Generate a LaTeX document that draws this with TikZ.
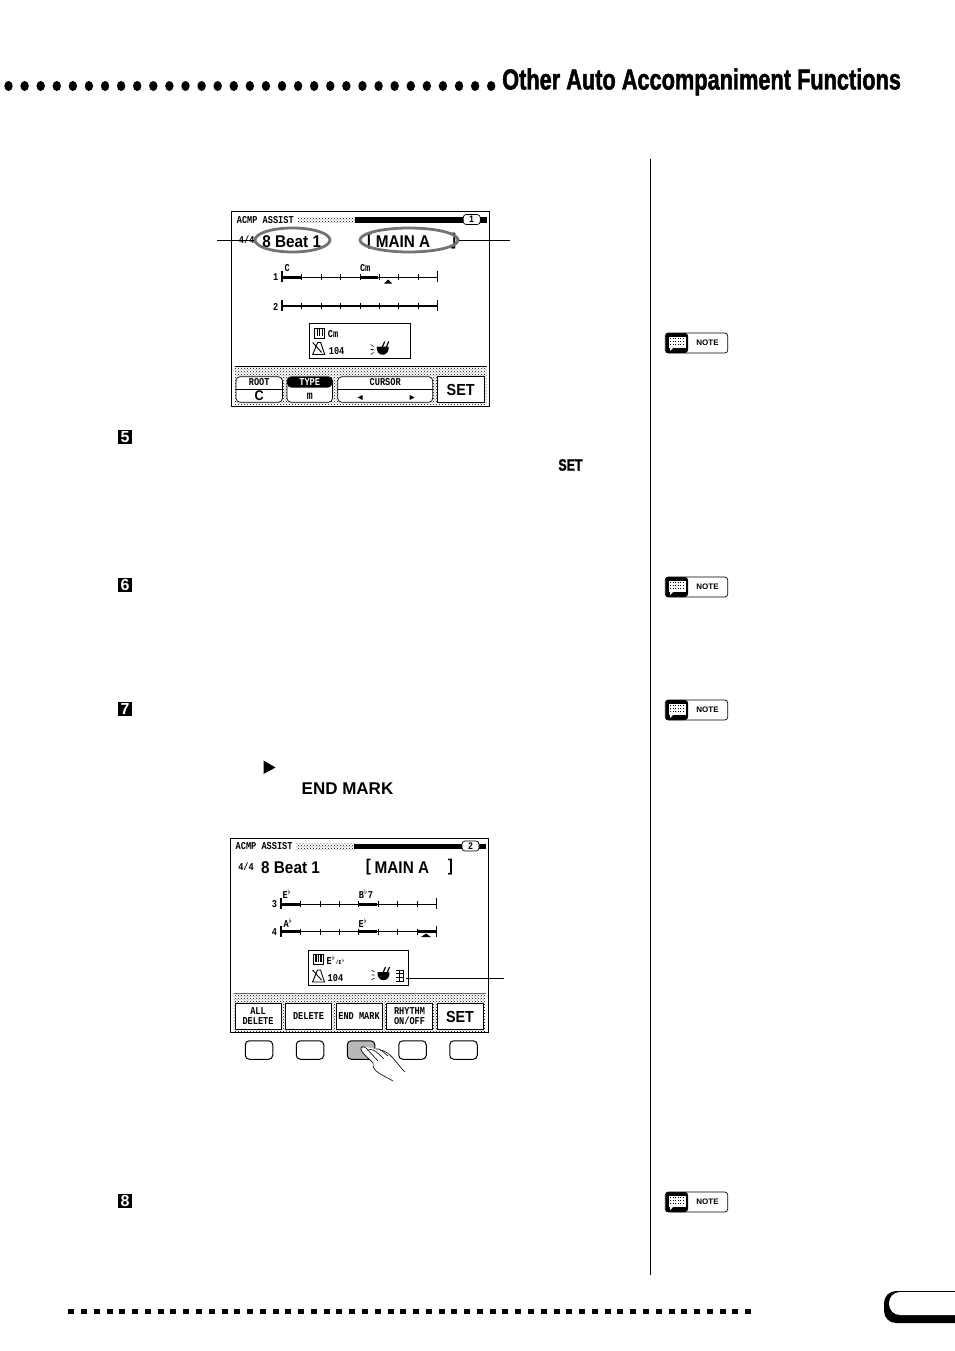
\documentclass[tikz,border=0pt]{standalone}
\usepackage{fontspec}
\setmainfont{Liberation Sans}
\newfontfamily\lcdfont[FakeStretch=0.82]{Liberation Mono}
\newfontfamily\lcdwide[FakeStretch=0.9]{Liberation Sans}
\newfontfamily\headfont[FakeStretch=0.75,FakeBold=1.6]{Liberation Sans}
\usetikzlibrary{patterns,shapes.geometric}
\tikzset{
  lcdsmall/.style={inner sep=0pt,font=\lcdfont\bfseries\fontsize{10.5}{10.5}\selectfont},
  lcdbig/.style={inner sep=0pt,font=\lcdwide\bfseries\fontsize{17}{17}\selectfont},
  softkey/.style={draw,fill=white,line width=.7pt,rounded corners=4pt},
  hardkey/.style={draw,line width=1pt,rounded corners=4pt,minimum width=27.5pt,minimum height=18.5pt,inner sep=0pt},
  stepbox/.style={fill=black,text=white,inner sep=0pt,minimum size=14.5pt,font=\bfseries\fontsize{16}{16}\selectfont},
  callout/.style={line width=.7pt},
  ringmark/.style={ellipse,draw=black!55,line width=2.8pt,inner sep=0pt},
}
% one timeline: y, thickness of the line
\newcommand{\barline}[2]{
  \draw[line width=#2] (0,#1) -- (155,#1);
  \foreach \t in {1,...,7} \draw[line width=.5pt] (\t*19.4,#1-3) -- (\t*19.4,#1+3);
  \draw[line width=1.6pt] (0,#1-6) -- (0,#1+5);
  \draw[line width=.8pt] (155,#1-6) -- (155,#1+5);
}
% frame, title and dotted band of a screen
\newcommand{\screenframe}[1]{
  \draw[line width=.7pt] (0,0) rectangle (258,194.5);
  \node[lcdsmall,anchor=west] at (5,8.5) {ACMP ASSIST};
  \fill[pattern=crosshatch dots] (66,5.5) rectangle (125,11);
  \fill (123,5.5) rectangle (255,11);
  \node[draw,fill=white,rounded corners=3pt,line width=.7pt,minimum width=17pt,minimum height=10pt,inner sep=0pt,font=\lcdfont\bfseries\fontsize{10}{10}\selectfont] at (240,8) {#1};
  \fill[pattern=crosshatch dots] (3,155) rectangle (255,193);
}
% small icons of the info box: keyboard, metronome, drum
\newcommand{\keysicon}[2]{
  \draw[line width=.7pt] (#1-5,#2-5) rectangle (#1+5,#2+5);
  \foreach \k in {-2.5,0,2.5} \draw[line width=1.4pt] (#1+\k,#2-5) -- (#1+\k,#2+3);
}
\newcommand{\metroicon}[2]{
  \draw[line width=.9pt] (#1-6,#2+6) -- (#1-1,#2-6) -- (#1+2,#2-6) -- (#1+6,#2+6) -- cycle;
  \draw[line width=.9pt] (#1-6,#2-6) -- (#1+3,#2+4);
}
\newcommand{\drumicon}[2]{
  \fill (#1-6,#2-3) -- (#1+6,#2-3) .. controls (#1+7,#2+8) and (#1-7,#2+8) .. (#1-6,#2-3) -- cycle;
  \draw[line width=1.2pt] (#1-1,#2-1) -- (#1+2,#2-8) (#1+3,#2-1) -- (#1+6,#2-8);
  \draw[line width=.6pt] (#1-12,#2-5) -- (#1-9,#2-3) (#1-12,#2) -- (#1-9,#2) (#1-12,#2+5) -- (#1-9,#2+3);
}
\begin{document}
\begin{tikzpicture}[x=1pt,y=-1pt]
  \useasboundingbox (0,0) rectangle (954,1351);
  % Header
  \foreach \i in {0,...,30} \fill (8.5+\i*16.09,86) ellipse (4.2 and 5);
  \node[anchor=west,inner sep=0pt,font=\headfont\bfseries\fontsize{29}{29}\selectfont] (headline) at (502,82) {Other Auto Accompaniment Functions};
  % Margin rule
  \coordinate (ruletop) at (650.5,159);
  \coordinate (rulebot) at (650.5,1275);
  \draw[line width=.8pt] (ruletop) -- (rulebot);

  % First screen
  \begin{scope}[shift={(231.7,211.5)}]
    \screenframe{1}
    \node[lcdsmall] (metera) at (15,28.5) {4/4};
    \node[lcdbig,anchor=west] (stylea) at (30.5,30) {8 Beat 1};
    \node[lcdbig] (opena) at (138,29.5) {[};
    \node[lcdbig,anchor=west] (sectiona) at (144,30) {MAIN A};
    \node[lcdbig] (closea) at (222,29.5) {]};
    \begin{scope}[shift={(50.5,0)}]
      \barline{65.5}{.6pt}
      \barline{94.5}{1.4pt}
      \fill (0,64) rectangle (19.4,67);
      \fill (77.6,64) rectangle (96,67);
      \fill (110,72) -- (102,72) -- (106,68) -- cycle;
      \node[lcdsmall] at (5,57) {C};
      \node[lcdsmall] at (83,57) {Cm};
    \end{scope}
    \node[lcdsmall] at (44,66) {1};
    \node[lcdsmall] at (44,95) {2};
    \node[draw,line width=.7pt,fill=white,minimum width=100.5pt,minimum height=35.5pt,inner sep=0pt] (infoa) at (128,129.5) {};
    \keysicon{88}{121.5}
    \node[lcdsmall,anchor=west] at (96,123) {Cm};
    \metroicon{87}{137}
    \node[lcdsmall,anchor=west] at (97,140) {104};
    \drumicon{151}{138}
    \draw[line width=1.8pt] (3,155) -- (255,155);
    % Keys under the screen
    \node[softkey,minimum width=46.5pt,minimum height=25.5pt,inner sep=0pt] (rootkey) at (27.5,178) {};
    \draw[line width=.5pt] (rootkey.west) -- (rootkey.east);
    \node[lcdsmall] at (27.5,171) {ROOT};
    \node[inner sep=0pt,font=\lcdwide\bfseries\fontsize{14}{14}\selectfont] at (27.5,184.5) {C};
    \node[softkey,minimum width=45.5pt,minimum height=25.5pt,inner sep=0pt] (typekey) at (78,178) {};
    \fill[rounded corners=4pt] (55.5,165.5) rectangle (100.5,176) ;
    \node[lcdsmall,text=white] at (78,171) {TYPE};
    \node[lcdsmall,font=\lcdfont\bfseries\fontsize{12}{12}\selectfont] at (78,185) {m};
    \node[softkey,minimum width=95pt,minimum height=25.5pt,inner sep=0pt] (cursorkey) at (153.5,178) {};
    \draw[line width=.5pt] (cursorkey.west) -- (cursorkey.east);
    \node[lcdsmall] at (153.5,171) {CURSOR};
    \fill (126,186) -- (131,183.5) -- (131,188.5) -- cycle;
    \fill (183,186) -- (178,183.5) -- (178,188.5) -- cycle;
    \node[draw,fill=white,line width=.7pt,minimum width=46.5pt,minimum height=25.5pt,inner sep=0pt,font=\lcdwide\bfseries\fontsize{16}{16}\selectfont] (setkeya) at (229,178) {SET};
  \end{scope}
  \node[ringmark,minimum width=75pt,minimum height=24pt] (ringa) at (292.5,240) {};
  \node[ringmark,minimum width=98pt,minimum height=24pt] (ringb) at (409,240) {};
  \coordinate (calla) at (217,240);
  \coordinate (callb) at (510,240);
  \draw[callout] (calla) -- (ringa.west);
  \draw[callout] (ringb.east) -- (callb);

  % Step marks
  \node[stepbox] (stepfive) at (125,437) {5};
  \node[stepbox] (stepsix) at (125,585) {6};
  \node[stepbox] (stepseven) at (125,709) {7};
  \node[stepbox] (stepeight) at (125,1201) {8};
  \node[inner sep=0pt,font=\headfont\bfseries\fontsize{16.5}{16.5}\selectfont] (setword) at (570.5,465) {SET};
  \fill (263.5,760.5) -- (275.5,767.5) -- (263.5,774) -- cycle;
  \node[inner sep=0pt,font=\bfseries\fontsize{17}{17}\selectfont] (endword) at (347.5,789) {END MARK};

  % Second screen
  \begin{scope}[shift={(230.5,838)}]
    \screenframe{2}
    \node[lcdsmall] (meterb) at (15.5,29) {4/4};
    \node[lcdbig,anchor=west] (styleb) at (30.5,30) {8 Beat 1};
    \node[lcdbig] (openb) at (138,29.5) {[};
    \node[lcdbig,anchor=west] (sectionb) at (144,30) {MAIN A};
    \node[lcdbig] (closeb) at (220,29.5) {]};
    \begin{scope}[shift={(50.5,0)}]
      \barline{66}{.9pt}
      \barline{93.5}{.9pt}
      \fill (0,64.5) rectangle (19.4,67.5);
      \fill (77.6,64.5) rectangle (96,67.5);
      \fill (0,92) rectangle (19.4,95);
      \fill (77.6,92) rectangle (96,95);
      \fill (135.8,92) rectangle (155,95);
      \fill (150,99) -- (140,99) -- (145,95.5) -- cycle;
      \node[lcdsmall] at (6,56) {E$^\flat$};
      \node[lcdsmall] at (85,56) {B$^\flat$7};
      \node[lcdsmall] at (7,85) {A$^\flat$};
      \node[lcdsmall] at (82,85) {E$^\flat$};
    \end{scope}
    \node[lcdsmall] at (44,66) {3};
    \node[lcdsmall] at (44,94) {4};
    \node[draw,line width=.7pt,fill=white,minimum width=100.5pt,minimum height=35pt,inner sep=0pt] (infob) at (128,130) {};
    \keysicon{88}{121}
    \node[lcdsmall,anchor=west] at (96,122) {E$^\flat${\fontsize{6}{6}\selectfont/E$^\flat$}};
    \metroicon{88}{138}
    \node[lcdsmall,anchor=west] at (97,140) {104};
    \drumicon{153}{137}
    \draw[line width=.6pt] (165,132) -- (173,132) -- (173,143) -- (165,143);
    \draw[line width=.6pt] (165,135.5) -- (173,135.5) (165,139) -- (173,139) (169,132) -- (169,143);
    \coordinate (stylemark) at (175,140.3);
    \draw[line width=.6pt,black!60] (3,155.5) -- (255,155.5);
    % Keys under the screen
    \foreach \x/\nm/\lbl in {27.5/keyalldel/{ALL\\DELETE},78/keydel/DELETE,128.5/keyend/END MARK,179/keyrhy/{RHYTHM\\ON/OFF}}
      \node[draw,fill=white,line width=.7pt,minimum width=46pt,minimum height=26.5pt,inner sep=0pt,align=center,font=\lcdfont\bfseries\fontsize{10.5}{10}\selectfont] (\nm) at (\x,178.5) {\lbl};
    \node[draw,fill=white,line width=.7pt,minimum width=46pt,minimum height=26.5pt,inner sep=0pt,font=\lcdwide\bfseries\fontsize{16}{16}\selectfont] (setkeyb) at (229.5,178.5) {SET};
  \end{scope}
  \coordinate (callc) at (504,978.3);
  \draw[callout] (stylemark) -- (callc);

  % Panel buttons and the hand
  \node[hardkey] (btna) at (259,1050) {};
  \node[hardkey] (btnb) at (310,1050) {};
  \node[hardkey,fill=black!28] (btnc) at (361,1050) {};
  \node[hardkey] (btnd) at (412.5,1050) {};
  \node[hardkey] (btne) at (463.5,1050) {};
  \fill[white] (361,1049) -- (366,1047) -- (380,1050) -- (390,1053) -- (405,1072) -- (393,1081) -- (383,1075) -- (373,1068) -- (373,1063) -- cycle;
  \draw[line width=.6pt] (361,1050) .. controls (364,1056) and (370,1059) .. (373,1063)
    .. controls (374,1066) and (372,1068) .. (375,1070) .. controls (380,1075) and (387,1077) .. (393,1081);
  \draw[line width=.6pt] (361,1050) .. controls (360,1046) and (364,1046) .. (366,1048) -- (378,1061);
  \draw[line width=.6pt] (368,1050) .. controls (372,1048) and (376,1051) .. (384,1059);
  \draw[line width=.6pt] (376,1049) .. controls (380,1048) and (382,1051) .. (388,1056);
  \draw[line width=.6pt] (380,1050) .. controls (390,1051) and (396,1063) .. (405,1072);

  % Notes in the margin
  \foreach \y/\nm in {343/notea,587/noteb,710/notec,1202/noted}{
    \node[draw,line width=.7pt,rounded corners=3pt,minimum width=62.5pt,minimum height=20pt,inner sep=0pt] (\nm) at (696.5,\y) {};
    \fill[rounded corners=3pt] (665.5,\y-10) rectangle (688,\y+10);
    \fill[white] (668.5,\y-6.5) rectangle (686,\y+4.5);
    \fill[white] (670,\y+4) -- (674,\y+4) -- (670,\y+8) -- cycle;
    \foreach \r in {-4.5,-1.5,1.5} \draw[line width=.6pt,dotted] (670,\y+\r) -- (685,\y+\r);
    \node[inner sep=0pt,font=\bfseries\fontsize{8}{8}\selectfont] at (707.5,\y) {NOTE};
  }

  % Footer
  \foreach \i in {0,...,53} \fill (68.3+\i*12.77,1309) rectangle (74.3+\i*12.77,1314);
  \fill[rounded corners=12pt] (884,1291) rectangle (970,1323);
  \fill[white,rounded corners=11pt] (889,1292) rectangle (970,1315);
\end{tikzpicture}
\end{document}
